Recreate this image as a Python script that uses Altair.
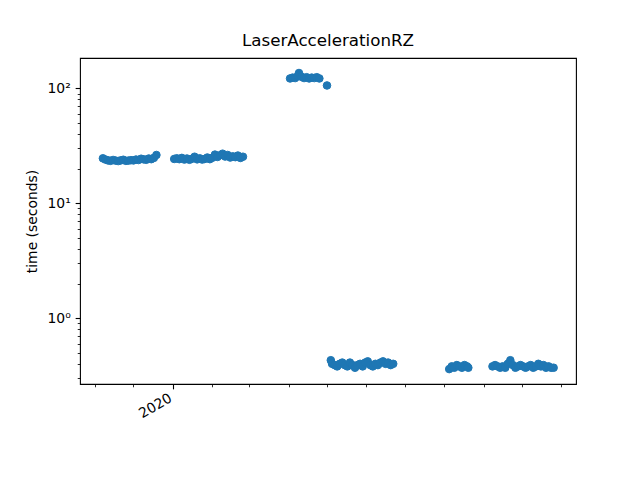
import altair as alt
import pandas as pd

# ---- data ----
dates_c1 = ["2019-11-07", "2019-11-09", "2019-11-11", "2019-11-13", "2019-11-15", "2019-11-17",
            "2019-11-19", "2019-11-21", "2019-11-23", "2019-11-25", "2019-11-27", "2019-11-29",
            "2019-12-01", "2019-12-03", "2019-12-05", "2019-12-07", "2019-12-09", "2019-12-11",
            "2019-12-13", "2019-12-15", "2019-12-17", "2019-12-19"]
times_c1 = [24.6, 24.0, 23.6, 23.4, 23.8, 23.5, 23.3, 23.6, 23.9, 23.4, 23.5, 23.7,
            23.6, 24.0, 23.8, 24.4, 24.1, 23.9, 24.5, 24.2, 24.8, 26.3]

dates_c2 = ["2020-01-02", "2020-01-04", "2020-01-06", "2020-01-08", "2020-01-10", "2020-01-12",
            "2020-01-14", "2020-01-16", "2020-01-18", "2020-01-20", "2020-01-22", "2020-01-24",
            "2020-01-26", "2020-01-28", "2020-01-30", "2020-02-01", "2020-02-03", "2020-02-05",
            "2020-02-07", "2020-02-09", "2020-02-11", "2020-02-13", "2020-02-15", "2020-02-17",
            "2020-02-19", "2020-02-21", "2020-02-23", "2020-02-25"]
times_c2 = [24.3, 24.6, 24.2, 24.8, 24.0, 24.5, 23.9, 24.4, 25.4, 24.1, 24.6, 24.0,
            24.3, 25.0, 24.2, 24.9, 26.5, 25.3, 26.2, 27.0, 25.5, 26.3, 25.0, 25.6,
            25.2, 26.0, 24.8, 25.4]

dates_c3 = ["2020-04-02", "2020-04-04", "2020-04-06", "2020-04-08", "2020-04-09", "2020-04-11",
            "2020-04-13", "2020-04-15", "2020-04-17", "2020-04-19", "2020-04-21", "2020-04-23",
            "2020-04-25", "2020-05-01"]
times_c3 = [122, 124, 123, 128, 136, 126, 123, 125, 122, 124, 123, 125, 122, 106]

dates_c4 = ["2020-05-04", "2020-05-05", "2020-05-07", "2020-05-09", "2020-05-11", "2020-05-13",
            "2020-05-15", "2020-05-17", "2020-05-19", "2020-05-21", "2020-05-23", "2020-05-25",
            "2020-05-27", "2020-05-29", "2020-05-31", "2020-06-02", "2020-06-04", "2020-06-06",
            "2020-06-08", "2020-06-10", "2020-06-12", "2020-06-14", "2020-06-16", "2020-06-18",
            "2020-06-20", "2020-06-22"]
times_c4 = [0.43, 0.40, 0.39, 0.38, 0.40, 0.41, 0.39, 0.38, 0.41, 0.39, 0.37, 0.39,
            0.40, 0.38, 0.41, 0.42, 0.39, 0.38, 0.40, 0.39, 0.41, 0.42, 0.40, 0.41,
            0.39, 0.40]

dates_c5 = ["2020-08-05", "2020-08-07", "2020-08-09", "2020-08-11", "2020-08-13", "2020-08-15",
            "2020-08-17", "2020-08-19", "2020-08-20"]
times_c5 = [0.36, 0.38, 0.37, 0.39, 0.38, 0.37, 0.39, 0.38, 0.37]

dates_c6 = ["2020-09-08", "2020-09-10", "2020-09-12", "2020-09-14", "2020-09-16", "2020-09-18",
            "2020-09-20", "2020-09-22", "2020-09-24", "2020-09-26", "2020-09-28", "2020-09-30",
            "2020-10-02", "2020-10-04", "2020-10-06", "2020-10-08", "2020-10-10", "2020-10-12",
            "2020-10-14", "2020-10-16", "2020-10-18", "2020-10-20", "2020-10-22", "2020-10-24",
            "2020-10-26"]
times_c6 = [0.38, 0.39, 0.38, 0.37, 0.38, 0.37, 0.40, 0.43, 0.39, 0.37, 0.38, 0.39,
            0.38, 0.37, 0.38, 0.39, 0.37, 0.38, 0.40, 0.38, 0.39, 0.37, 0.38, 0.37,
            0.37]

y_major_ticks = [1, 10, 100]
y_minor_ticks = [0.3, 0.4, 0.5, 0.6, 0.7, 0.8, 0.9,
                 2, 3, 4, 5, 6, 7, 8, 9,
                 20, 30, 40, 50, 60, 70, 80, 90]
x_major_ticks = [(2020, 1)]
x_minor_ticks = [(2019, 11), (2019, 12), (2020, 2), (2020, 3), (2020, 4), (2020, 5),
                 (2020, 6), (2020, 7), (2020, 8), (2020, 9), (2020, 10), (2020, 11)]

df = pd.DataFrame({
    "date": dates_c1 + dates_c2 + dates_c3 + dates_c4 + dates_c5 + dates_c6,
    "time": times_c1 + times_c2 + times_c3 + times_c4 + times_c5 + times_c6,
})

FONT = "DejaVu Sans"
BLUE = "#1f77b4"

xscale = alt.Scale(
    type="utc",
    domain=[alt.DateTime(year=2019, month=10, date=20, utc=True),
            alt.DateTime(year=2020, month=11, date=12, hours=14, utc=True)],
    nice=False,
)
yscale = alt.Scale(type="log", domain=[0.267, 183.8], nice=False)

def dt(ym):
    return alt.DateTime(year=ym[0], month=ym[1], date=1, utc=True)

base = alt.Chart(df)

main = base.mark_circle(size=58, opacity=1, color=BLUE, stroke=BLUE, strokeWidth=1).encode(
    x=alt.X("date:T", scale=xscale,
            axis=alt.Axis(values=[dt(v) for v in x_major_ticks], orient="bottom",
                          labelExpr="utcFormat(datum.value, '%Y')",
                          labelAngle=-30, labelAlign="right", labelBaseline="top",
                          labelOffset=-6, labelPadding=2,
                          tickSize=4.86, tickWidth=1.1, title=None)),
    y=alt.Y("time:Q", scale=yscale,
            axis=alt.Axis(values=y_major_ticks, orient="left",
                          labelExpr="datum.value == 1 ? '10⁰' : datum.value == 10 ? '10¹' : datum.value == 100 ? '10²' : ''",
                          tickSize=4.86, tickWidth=1.1, labelPadding=4.86,
                          title="time (seconds)", titlePadding=8)),
)

minor = base.mark_point(size=1, opacity=0, filled=False, strokeOpacity=0, fillOpacity=0).encode(
    x=alt.X("date:T", scale=xscale,
            axis=alt.Axis(values=[dt(v) for v in x_minor_ticks], orient="bottom",
                          labels=False, tickSize=2.78, tickWidth=0.83, title=None)),
    y=alt.Y("time:Q", scale=yscale,
            axis=alt.Axis(values=y_minor_ticks, orient="left",
                          labels=False, tickSize=2.78, tickWidth=0.83, title=None)),
)

chart = alt.layer(minor, main).resolve_axis(
    x="independent", y="independent"
).properties(
    width=496,
    height=326,
    title=alt.TitleParams("LaserAccelerationRZ", font=FONT, fontSize=16.7,
                          fontWeight="normal", color="black", offset=8, anchor="middle"),
    autosize=alt.AutoSizeParams(type="none"),
    padding={"left": 72, "top": 50, "right": 56, "bottom": 80},
).configure_view(
    stroke="black", strokeWidth=1.1
).configure_axis(
    grid=False, domain=False,
    labelFont=FONT, labelFontSize=13.9, labelColor="black",
    tickColor="black",
    titleFont=FONT, titleFontSize=13.9, titleFontWeight="normal", titleColor="black",
)

chart.save("out.html", embed_options={"renderer": "svg", "actions": False})
